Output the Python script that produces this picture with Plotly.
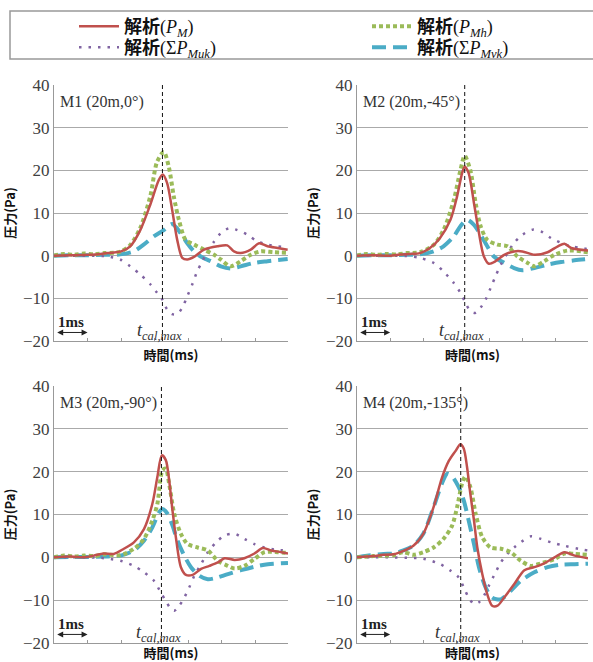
import plotly.graph_objects as go
from plotly.subplots import make_subplots

# ---------------- data (time in ms, pressure in Pa) ----------------
series_names = ["解析(P_M)", "解析(P_Mh)", "解析(ΣP_Muk)", "解析(ΣP_Mvk)"]
panel_titles = ["M1 (20m,0°)", "M2 (20m,-45°)", "M3 (20m,-90°)", "M4 (20m,-135°)"]
t_cal_max = [3.23, 3.25, 3.20, 3.13]
y_ticks = [-20, -10, 0, 10, 20, 30, 40]

# M1
m1_pm_t = [0, 0.5, 1.0, 1.4, 1.7, 2.0, 2.27, 2.57, 2.87, 3.12, 3.24, 3.37, 3.52, 3.67, 3.82, 3.97, 4.17, 4.47, 4.87, 5.16, 5.36, 5.56, 5.86, 6.11, 6.36, 6.66, 6.96]
m1_pm_p = [0, 0.1, 0.2, 0.4, 0.7, 1.0, 2.2, 6.0, 12.0, 17.7, 19.0, 17.0, 10.7, 3.7, -0.5, -0.9, -0.3, 1.4, 2.2, 2.4, 1.0, 0.6, 1.4, 2.9, 2.2, 1.8, 1.4]
m1_pmh_t = [0, 0.3, 0.6, 0.9, 1.2, 1.5, 1.8, 2.0, 2.27, 2.57, 2.87, 3.07, 3.27, 3.42, 3.57, 3.72, 3.92, 4.17, 4.47, 4.77, 4.97, 5.26, 5.56, 5.86, 6.16, 6.56, 6.96]
m1_pmh_p = [0, 0.4, 0.2, 0.5, 0.3, 0.6, 0.7, 1.0, 2.5, 6.5, 14.0, 22.0, 24.3, 20.8, 13.8, 8.4, 3.7, 2.6, 1.4, 0.2, -0.9, -2.5, -1.3, 0.2, 1.0, 0.8, 0.7]
m1_muk_t = [0, 0.5, 1.0, 1.5, 1.67, 1.97, 2.27, 2.57, 2.87, 3.07, 3.22, 3.37, 3.52, 3.67, 3.82, 3.97, 4.12, 4.27, 4.42, 4.57, 4.77, 4.97, 5.21, 5.46, 5.76, 6.06, 6.36, 6.66, 6.96]
m1_muk_p = [0, 0, 0, -0.1, -0.3, -0.9, -2.5, -4.4, -6.7, -8.7, -10.2, -12.6, -13.7, -13.7, -12.2, -9.5, -6.7, -3.6, -1.3, 1.0, 3.3, 5.3, 6.4, 6.0, 4.9, 3.3, 2.6, 2.2, 2.0]
m1_mvk_t = [0, 0.5, 1.0, 1.5, 1.97, 2.37, 2.67, 2.97, 3.27, 3.52, 3.77, 3.97, 4.17, 4.37, 4.67, 4.97, 5.26, 5.56, 5.96, 6.36, 6.96]
m1_mvk_p = [0, 0.1, 0.1, 0.2, 0.3, 1.0, 2.6, 4.5, 6.0, 7.4, 5.3, 2.9, 1.0, -0.2, -1.3, -2.5, -3.0, -2.5, -1.7, -1.3, -0.8]

# M2
m2_pm_t = [0, 0.5, 1.0, 1.3, 1.6, 1.9, 2.2, 2.5, 2.82, 3.02, 3.17, 3.25, 3.37, 3.53, 3.68, 3.83, 3.98, 4.18, 4.44, 4.74, 4.99, 5.35, 5.75, 6.06, 6.26, 6.46, 6.97]
m2_pm_p = [0, 0.1, 0, 0.3, 0.4, 0.6, 1.8, 4.1, 8.4, 13.9, 19.3, 20.9, 19.3, 12.3, 5.3, -0.2, -1.9, -1.3, 0.2, 1.0, 1.0, 0.2, 0.8, 2.2, 2.8, 1.8, 1.2]
m2_pmh_t = [0, 0.3, 0.6, 0.9, 1.2, 1.5, 1.9, 2.31, 2.61, 2.92, 3.12, 3.25, 3.42, 3.58, 3.73, 3.93, 4.24, 4.54, 4.84, 5.15, 5.35, 5.65, 5.96, 6.36, 6.97]
m2_pmh_p = [0, 0.4, 0.2, 0.4, 0.3, 0.6, 0.8, 2.5, 6.0, 13.0, 20.0, 23.4, 20.0, 12.3, 6.9, 3.7, 2.6, 2.2, -0.2, -1.7, -2.5, -1.3, 0.2, 1.2, 0.8]
m2_muk_t = [0, 0.5, 1.0, 1.5, 1.9, 2.31, 2.61, 2.92, 3.12, 3.27, 3.42, 3.58, 3.73, 3.88, 4.03, 4.18, 4.34, 4.54, 4.74, 4.99, 5.3, 5.55, 5.86, 6.16, 6.46, 6.77, 6.97]
m2_muk_p = [0, 0, 0, -0.1, -0.5, -1.7, -3.7, -6.4, -8.7, -11.0, -13.0, -13.4, -12.2, -10.3, -7.6, -4.8, -2.1, 0.6, 3.0, 4.9, 6.1, 5.7, 4.1, 3.0, 2.2, 1.8, 1.5]
m2_mvk_t = [0, 0.5, 1.0, 1.5, 1.9, 2.31, 2.61, 2.92, 3.12, 3.32, 3.53, 3.73, 3.93, 4.13, 4.44, 4.74, 4.99, 5.35, 5.75, 6.16, 6.56, 6.97]
m2_mvk_p = [0, 0.1, 0.1, 0.2, 0.3, 1.0, 2.2, 4.5, 6.9, 8.4, 7.2, 4.9, 2.2, -0.2, -1.7, -2.9, -3.4, -2.9, -2.1, -1.5, -1.1, -0.8]

# M3
m3_pm_t = [0, 0.5, 0.9, 1.18, 1.48, 1.78, 2.08, 2.38, 2.68, 2.93, 3.08, 3.21, 3.33, 3.43, 3.53, 3.63, 3.78, 3.93, 4.13, 4.38, 4.63, 4.88, 5.08, 5.38, 5.67, 5.97, 6.22, 6.47, 6.77, 6.97]
m3_pm_p = [0, 0.2, 0, 0.4, 0.9, 0.8, 2.0, 3.5, 6.6, 12.5, 18.8, 23.8, 22.7, 18.0, 10.9, 4.7, -2.3, -4.1, -4.1, -2.7, -2.0, -1.2, -0.2, -0.6, -0.2, 0.9, 2.2, 1.6, 1.2, 0.9]
m3_pmh_t = [0, 0.3, 0.6, 0.9, 1.2, 1.5, 1.98, 2.38, 2.68, 2.93, 3.08, 3.23, 3.33, 3.43, 3.58, 3.78, 3.98, 4.28, 4.58, 4.88, 5.18, 5.38, 5.67, 5.97, 6.27, 6.67, 6.97]
m3_pmh_p = [0, 0.4, 0.2, 0.4, 0.3, 0.7, 0.5, 2.0, 4.3, 8.6, 12.5, 20.3, 20.7, 17.2, 10.2, 5.5, 3.1, 2.3, 1.6, -0.8, -2.0, -2.6, -2.0, -0.4, 1.2, 1.2, 1.0]
m3_muk_t = [0, 0.5, 1.0, 1.38, 1.68, 1.98, 2.38, 2.68, 2.98, 3.18, 3.33, 3.46, 3.58, 3.73, 3.88, 4.03, 4.18, 4.38, 4.58, 4.83, 5.08, 5.38, 5.67, 5.97, 6.27, 6.57, 6.97]
m3_muk_p = [0, 0, 0, -0.1, -0.4, -0.8, -2.0, -3.5, -5.5, -8.2, -10.2, -11.8, -12.5, -11.3, -9.4, -7.0, -4.3, -1.6, 1.2, 3.5, 5.1, 5.5, 4.3, 3.1, 2.3, 1.8, 1.6]
m3_mvk_t = [0, 0.5, 1.0, 1.5, 1.98, 2.38, 2.68, 2.93, 3.13, 3.23, 3.38, 3.53, 3.68, 3.88, 4.08, 4.33, 4.58, 4.83, 5.18, 5.57, 5.97, 6.37, 6.97]
m3_mvk_p = [0, 0.1, 0.1, 0.2, 0.4, 1.6, 3.9, 7.0, 10.5, 11.3, 10.2, 7.4, 3.9, 0.4, -2.3, -4.3, -5.1, -4.8, -3.9, -3.0, -2.2, -1.6, -1.3]

# M4
m4_pm_t = [0, 0.5, 0.8, 1.1, 1.4, 1.7, 2.0, 2.31, 2.56, 2.77, 2.97, 3.12, 3.22, 3.32, 3.42, 3.53, 3.63, 3.78, 3.93, 4.08, 4.24, 4.44, 4.74, 5.05, 5.35, 5.65, 5.96, 6.26, 6.57, 6.97]
m4_pm_p = [0, 0.3, 0.6, 0.7, 1.5, 2.7, 5.5, 11.7, 18.5, 22.5, 24.8, 26.4, 25.4, 21.1, 14.8, 8.6, 2.3, -3.9, -8.6, -11.3, -11.3, -9.4, -6.3, -3.0, -2.3, -1.4, 0, 1.2, 0.4, -0.2]
m4_pmh_t = [0, 0.5, 1.1, 1.4, 1.7, 2.0, 2.31, 2.61, 2.87, 3.02, 3.17, 3.27, 3.42, 3.58, 3.78, 4.03, 4.34, 4.64, 4.94, 5.25, 5.55, 5.96, 6.26, 6.57, 6.97]
m4_pmh_p = [0, 0.3, 0.5, 1.2, 0.6, 1.2, 2.3, 4.3, 7.4, 11.7, 17.2, 18.9, 16.4, 10.2, 4.7, 2.3, 2.0, 1.2, -0.8, -2.0, -1.4, -0.4, 0.9, 0.8, 0.6]
m4_muk_t = [0, 0.5, 1.0, 1.5, 2.0, 2.51, 2.82, 3.07, 3.22, 3.37, 3.53, 3.68, 3.83, 3.98, 4.13, 4.34, 4.54, 4.74, 4.94, 5.25, 5.55, 5.86, 6.26, 6.67, 6.97]
m4_muk_p = [0, 0, 0, -0.1, -0.3, -1.6, -3.1, -4.7, -7.0, -9.4, -10.9, -10.5, -9.0, -6.6, -4.3, -1.2, 0.8, 2.3, 3.5, 4.9, 4.3, 3.5, 2.7, 2.0, 1.6]
m4_mvk_t = [0, 0.3, 0.8, 1.1, 1.4, 1.7, 2.0, 2.31, 2.56, 2.72, 2.87, 3.07, 3.22, 3.37, 3.53, 3.68, 3.88, 4.08, 4.34, 4.64, 4.94, 5.35, 5.75, 6.16, 6.57, 6.97]
m4_mvk_p = [0, 0.4, 0.8, 0.9, 1.6, 2.7, 5.5, 11.7, 17.2, 19.5, 18.9, 16.4, 13.3, 8.6, 3.1, -2.3, -7.0, -9.4, -9.8, -7.8, -5.5, -3.5, -2.3, -1.7, -1.6, -1.5]

panels = [
    [(m1_pm_t, m1_pm_p), (m1_pmh_t, m1_pmh_p), (m1_muk_t, m1_muk_p), (m1_mvk_t, m1_mvk_p)],
    [(m2_pm_t, m2_pm_p), (m2_pmh_t, m2_pmh_p), (m2_muk_t, m2_muk_p), (m2_mvk_t, m2_mvk_p)],
    [(m3_pm_t, m3_pm_p), (m3_pmh_t, m3_pmh_p), (m3_muk_t, m3_muk_p), (m3_mvk_t, m3_mvk_p)],
    [(m4_pm_t, m4_pm_p), (m4_pmh_t, m4_pmh_p), (m4_muk_t, m4_muk_p), (m4_mvk_t, m4_mvk_p)],
]

# ---------------- styling ----------------
W, H = 593, 662
SERIF = "Liberation Serif, Noto Sans CJK JP, serif"
CJK = "Noto Sans CJK JP, sans-serif"
legend_labels = [
    "<b>解析</b>(<i>P<sub>M</sub></i>)",
    "<b>解析</b>(<i>P<sub>Mh</sub></i>)",
    "<b>解析</b>(Σ<i>P<sub>Muk</sub></i>)",
    "<b>解析</b>(Σ<i>P<sub>Mvk</sub></i>)",
]
legend_of = ["legend", "legend2", "legend3", "legend4"]
line_styles = [
    dict(color="#C0504D", width=2.5, dash="solid"),
    dict(color="#9BBB59", width=4, dash="4px,3px"),
    dict(color="#8064A2", width=2.5, dash="2.5px,7px"),
    dict(color="#4BACC6", width=4, dash="14px,7px"),
]
draw_order = [3, 2, 1, 0]

def px_x(p):
    return p / W

def px_y(p):
    return 1 - p / H

domains = [
    ([px_x(54), px_x(288)], [px_y(341), px_y(85)]),
    ([px_x(357), px_x(588)], [px_y(341), px_y(85)]),
    ([px_x(54), px_x(288)], [px_y(643), px_y(386)]),
    ([px_x(357), px_x(588)], [px_y(643), px_y(386)]),
]

fig = make_subplots(rows=2, cols=2)

for k, series in enumerate(panels):
    row, col = k // 2 + 1, k % 2 + 1
    for s in draw_order:
        tt, pp = series[s]
        fig.add_trace(
            go.Scatter(
                x=tt, y=pp, mode="lines", name=legend_labels[s],
                line=dict(shape="spline", smoothing=0.8, **line_styles[s]),
                showlegend=(k == 0), legend=legend_of[s],
                hoverinfo="skip",
            ),
            row=row, col=col,
        )

for k in range(4):
    ax = "" if k == 0 else str(k + 1)
    xd, yd = domains[k]
    fig.layout["xaxis" + ax].update(
        domain=xd, range=[0, 6.97], dtick=1, tick0=0, showticklabels=False,
        ticks="inside", ticklen=3, tickcolor="#999999",
        showgrid=False, zeroline=False, showline=True, linecolor="#999999", linewidth=1,
        title=dict(text="<b>時間(ms)</b>", font=dict(family=CJK, size=13, color="#111111"), standoff=9),
        automargin=False,
    )
    fig.layout["yaxis" + ax].update(
        domain=yd, range=[-20, 40], tickvals=y_ticks,
        tickfont=dict(family=SERIF, size=17, color="#404040"),
        ticks="", showgrid=True, gridcolor="#AAAAAA", gridwidth=1,
        zeroline=False, showline=True, linecolor="#999999", linewidth=1,
        title=dict(text="<b>圧力(Pa)</b>", font=dict(family=CJK, size=13, color="#111111"), standoff=4),
        automargin=False,
    )
    xr, yr = "x" + ax, "y" + ax
    fig.add_shape(type="line", xref=xr, yref=yr + " domain", x0=t_cal_max[k], x1=t_cal_max[k],
                  y0=0, y1=1, line=dict(color="#111111", width=1, dash="4px,3px"), layer="above")
    fig.add_annotation(xref=xr, yref=yr, x=0.12, y=36, text=panel_titles[k], showarrow=False,
                       xanchor="left", yanchor="middle", font=dict(family=SERIF, size=16, color="#333333"))
    fig.add_annotation(xref=xr, yref=yr, axref=xr, ayref=yr, x=1.0, y=-18, ax=0.05, ay=-18,
                       text="", showarrow=True, arrowhead=2, startarrowhead=2, arrowside="end+start",
                       arrowwidth=1, arrowsize=1.2, startarrowsize=1.2, arrowcolor="#222222")
    fig.add_annotation(xref=xr, yref=yr, x=0.5, y=-15.6, text="<b>1ms</b>", showarrow=False,
                       font=dict(family=SERIF, size=15, color="#222222"))
    fig.add_annotation(xref=xr, yref=yr, x=t_cal_max[k] - 0.1, y=-17.8,
                       text="<i>t<sub>cal,max</sub></i>", showarrow=False,
                       font=dict(family=SERIF, size=18, color="#333333"))

# legend frame
fig.add_shape(type="rect", xref="paper", yref="paper", x0=px_x(10), x1=px_x(600),
              y0=px_y(59), y1=px_y(11), line=dict(color="#999999", width=1.5), fillcolor="rgba(0,0,0,0)")

legend_common = dict(
    orientation="v", yanchor="top", xanchor="left", traceorder="normal",
    font=dict(family=SERIF, size=18, color="#111111"),
    bgcolor="rgba(0,0,0,0)", borderwidth=0, itemwidth=40, tracegroupgap=0,
)
fig.update_layout(
    width=W, height=H,
    margin=dict(l=0, r=0, t=0, b=0),
    paper_bgcolor="white", plot_bgcolor="white",
    legend=dict(x=px_x(74), y=px_y(8), **legend_common),
    legend2=dict(x=px_x(367), y=px_y(8), **legend_common),
    legend3=dict(x=px_x(74), y=px_y(29), **legend_common),
    legend4=dict(x=px_x(367), y=px_y(29), **legend_common),
)

fig.write_html("out.html")
